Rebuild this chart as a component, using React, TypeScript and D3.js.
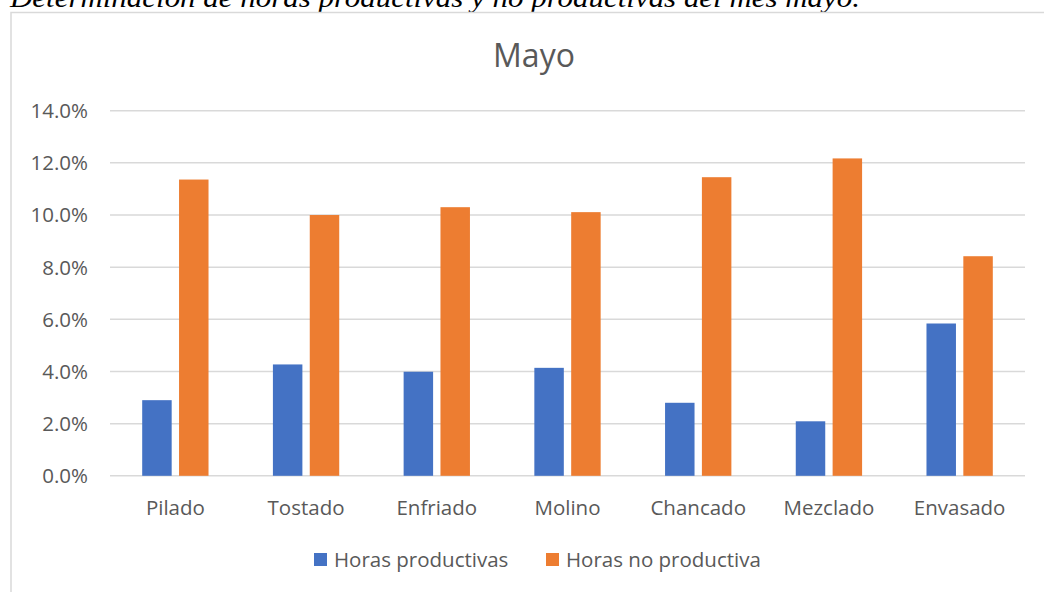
import React from "react";
import * as d3 from "d3";

const categories = ["Pilado", "Tostado", "Enfriado", "Molino", "Chancado", "Mezclado", "Envasado"];
const productivas = [0.029, 0.0427, 0.0399, 0.0414, 0.028, 0.0209, 0.0584];
const noProductivas = [0.1136, 0.1, 0.103, 0.1011, 0.1145, 0.1217, 0.0842];
const seriesNames = ["Horas productivas", "Horas no productiva"];
const yTicks = [0, 0.02, 0.04, 0.06, 0.08, 0.1, 0.12, 0.14];

const W = 1044;
const H = 592;
const colors = ["#4472C4", "#ED7D31"];
const textColor = "#595959";
const font = "'Open Sans', 'Noto Sans', sans-serif";

export default function App() {
  const left = 110;
  const right = 1025;
  const top = 110.7;
  const bottom = 475.8;

  const x = d3.scaleBand<string>().domain(categories).range([left, right]);
  const y = d3.scaleLinear().domain([0, 0.14]).range([bottom, top]);
  const fmt = d3.format(".1%");

  const band = x.bandwidth();
  const barW = band * 0.2255;
  const gap = barW * 0.25;
  const group = d3
    .scaleBand<number>()
    .domain([0, 1])
    .range([band / 2 - barW - gap / 2, band / 2 + barW + gap / 2])
    .paddingInner(gap / (barW + gap));

  const series = [productivas, noProductivas];

  return (
    <svg
      width={W}
      height={H}
      style={{ position: "absolute", left: 0, top: 0, background: "#fff" }}
    >
      <text
        x={10}
        y={7}
        fontFamily="'Liberation Serif', 'Times New Roman', serif"
        fontStyle="italic"
        fontSize={27}
        fill="#000"
        textLength={850}
        lengthAdjust="spacingAndGlyphs"
      >
        Determinación de horas productivas y no productivas del mes mayo.
      </text>

      {/* chart frame */}
      <rect x={11} y={12.5} width={1060} height={600} fill="#fff" stroke="#d9d9d9" strokeWidth={1.5} />

      <text x={534} y={67} textAnchor="middle" fontFamily={font} fontSize={32} fill={textColor}>
        Mayo
      </text>

      {/* gridlines and y labels */}
      {yTicks.map((t) => (
        <g key={t}>
          <line x1={left} x2={right} y1={y(t)} y2={y(t)} stroke="#d9d9d9" strokeWidth={1.5} />
          <text
            x={88}
            y={y(t)}
            dy="0.36em"
            textAnchor="end"
            fontFamily={font}
            fontSize={20.5}
            fill={textColor}
          >
            {fmt(t)}
          </text>
        </g>
      ))}

      {/* bars */}
      {categories.map((c, i) => (
        <g key={c} transform={`translate(${x(c)},0)`}>
          {series.map((s, k) => (
            <rect
              key={k}
              x={group(k)}
              width={group.bandwidth()}
              y={y(s[i])}
              height={y(0) - y(s[i])}
              fill={colors[k]}
            />
          ))}
          <text
            x={band / 2}
            y={515}
            textAnchor="middle"
            fontFamily={font}
            fontSize={20.5}
            fill={textColor}
          >
            {c}
          </text>
        </g>
      ))}

      {/* legend */}
      {seriesNames.map((n, k) => {
        const lx = k === 0 ? 314 : 546;
        return (
          <g key={n}>
            <rect x={lx} y={553} width={13} height={13} fill={colors[k]} />
            <text x={lx + 20} y={567} fontFamily={font} fontSize={20.5} fill={textColor}>
              {n}
            </text>
          </g>
        );
      })}
    </svg>
  );
}
